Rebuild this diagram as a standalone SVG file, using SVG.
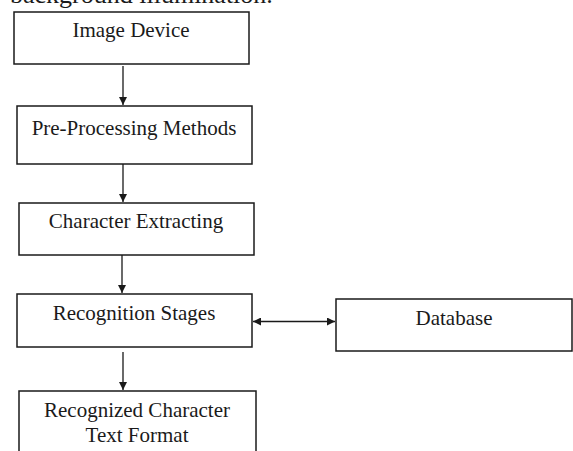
<svg xmlns="http://www.w3.org/2000/svg" width="573" height="451" viewBox="0 0 573 451">
<defs>
<style>
.box{fill:#fff;stroke:#1a1a1a;stroke-width:1.5}
.lbl{font-family:"Liberation Serif","Times New Roman",serif;font-size:21px;fill:#1a1a1a;text-anchor:middle}
.edge{stroke:#1a1a1a;stroke-width:1.3;fill:none}
</style>
<marker id="ah" viewBox="0 0 10 10" refX="10" refY="5" markerWidth="8" markerHeight="8" markerUnits="userSpaceOnUse" orient="auto-start-reverse">
<path d="M0,0 L10,5 L0,10 z" fill="#1a1a1a"/>
</marker>
</defs>
<rect width="573" height="451" fill="#fff"/>
<text x="10" y="3" font-family="'Liberation Serif', 'Times New Roman', serif" font-size="26" fill="#1a1a1a">background illumination.</text>
<g id="n1"><rect class="box" x="14" y="12" width="235" height="52"/><text class="lbl" font-family="'Liberation Serif', serif" x="131" y="37">Image Device</text></g>
<g id="n2"><rect class="box" x="17" y="106" width="235" height="58"/><text class="lbl" font-family="'Liberation Serif', serif" x="134" y="135">Pre-Processing Methods</text></g>
<g id="n3"><rect class="box" x="19" y="203" width="235" height="52"/><text class="lbl" font-family="'Liberation Serif', serif" x="136" y="228">Character Extracting</text></g>
<g id="n4"><rect class="box" x="17" y="294" width="235" height="53"/><text class="lbl" font-family="'Liberation Serif', serif" x="134" y="320">Recognition Stages</text></g>
<g id="n5"><rect class="box" x="336" y="299" width="236" height="52"/><text class="lbl" font-family="'Liberation Serif', serif" x="454" y="325">Database</text></g>
<g id="n6"><rect class="box" x="19" y="391" width="237" height="70"/><text class="lbl" font-family="'Liberation Serif', serif" x="137" y="417">Recognized Character</text><text class="lbl" font-family="'Liberation Serif', serif" x="137" y="442">Text Format</text></g>
<g id="edges">
<line class="edge" x1="123" y1="66" x2="123" y2="105" marker-end="url(#ah)"/>
<line class="edge" x1="123" y1="164" x2="123" y2="202" marker-end="url(#ah)"/>
<line class="edge" x1="122" y1="255" x2="122" y2="293" marker-end="url(#ah)"/>
<line class="edge" x1="123" y1="352" x2="123" y2="390" marker-end="url(#ah)"/>
<line class="edge" x1="253" y1="321.5" x2="335" y2="321.5" marker-start="url(#ah)" marker-end="url(#ah)"/>
</g>
</svg>
